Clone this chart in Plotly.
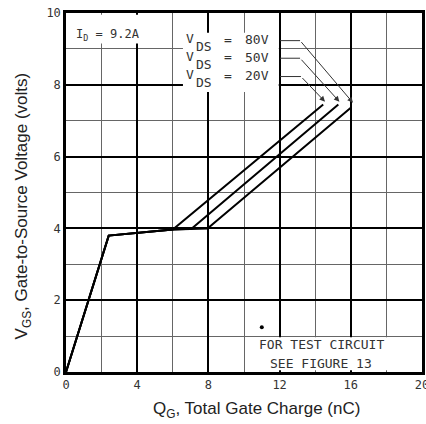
import plotly.graph_objects as go

# ---- data ----
q_20 = [0, 2.4, 6.0, 14.45]
v_20 = [0, 3.8, 3.97, 7.45]
q_50 = [0, 2.4, 6.0, 7.05, 15.3]
v_50 = [0, 3.8, 3.97, 3.99, 7.45]
q_80 = [0, 2.4, 6.0, 7.95, 16.0]
v_80 = [0, 3.8, 3.97, 4.0, 7.36]

vds_labels = ["80V", "50V", "20V"]
label_y = [9.23, 8.74, 8.23]
leader_x0 = [12.02, 12.02, 12.02]
leader_x1 = [13.15, 13.15, 13.2]
tip_x = [16.12, 15.36, 14.55]
tip_y = [7.5, 7.53, 7.53]

x_ticks = [0, 4, 8, 12, 16, 20]
y_ticks = [0, 2, 4, 6, 8, 10]

mono = "DejaVu Sans Mono"
sans = "Liberation Sans"

fig = go.Figure()

for q, v in [(q_80, v_80), (q_50, v_50), (q_20, v_20)]:
    fig.add_trace(go.Scatter(x=q, y=v, mode="lines",
                             line=dict(color="black", width=2),
                             hoverinfo="skip", showlegend=False))

# leader horizontal segments
for x0, x1, y in zip(leader_x0, leader_x1, label_y):
    fig.add_trace(go.Scatter(x=[x0, x1], y=[y, y], mode="lines",
                             line=dict(color="#333", width=1),
                             hoverinfo="skip", showlegend=False))

# dot
fig.add_trace(go.Scatter(x=[11.0], y=[1.25], mode="markers",
                         marker=dict(color="black", size=4),
                         hoverinfo="skip", showlegend=False))

shapes = [
    dict(type="rect", xref="x", yref="y", x0=0.1, x1=5.5, y0=9.15, y1=9.95,
         fillcolor="white", line=dict(width=0), layer="between"),
    dict(type="rect", xref="x", yref="y", x0=6.57, x1=11.95, y0=7.8, y1=9.45,
         fillcolor="white", line=dict(width=0), layer="between"),
    dict(type="rect", xref="x", yref="y", x0=10.1, x1=18.6, y0=0.05, y1=0.97,
         fillcolor="white", line=dict(width=0), layer="between"),
]

ann = []
# leader arrows
for x1, y, tx, ty in zip(leader_x1, label_y, tip_x, tip_y):
    ann.append(dict(x=tx, y=ty, ax=x1, ay=y, xref="x", yref="y",
                    axref="x", ayref="y", text="", showarrow=True,
                    arrowhead=2, arrowsize=1.1, arrowwidth=1, arrowcolor="#333"))

# V_DS labels
for lab, y in zip(vds_labels, label_y):
    fnt = dict(family=mono, size=13, color="#333")
    ann.append(dict(x=6.95, y=y + 0.06, xref="x", yref="y", text="V",
                    showarrow=False, font=fnt))
    ann.append(dict(x=7.75, y=y - 0.17, xref="x", yref="y", text="DS",
                    showarrow=False, font=fnt))
    ann.append(dict(x=9.1, y=y + 0.04, xref="x", yref="y", text="=",
                    showarrow=False, font=fnt))
    ann.append(dict(x=10.75, y=y + 0.02, xref="x", yref="y", text=lab,
                    showarrow=False, font=fnt))

ann.append(dict(x=0.45, y=9.4, xref="x", yref="y", xanchor="left",
                text="I<sub>D</sub> = 9.2A", showarrow=False,
                font=dict(family=mono, size=12, color="#333")))
ann.append(dict(x=14.35, y=0.77, xref="x", yref="y",
                text="FOR TEST CIRCUIT", showarrow=False,
                font=dict(family=mono, size=13, color="#333")))
ann.append(dict(x=14.35, y=0.25, xref="x", yref="y",
                text="SEE FIGURE 13", showarrow=False,
                font=dict(family=mono, size=13, color="#333")))

# axis titles
ann.append(dict(x=-0.12, y=0.462, xref="paper", yref="paper",
                xanchor="center", yanchor="middle",
                text="V<sub>GS</sub>, Gate-to-Source Voltage (volts)",
                textangle=-90, showarrow=False,
                font=dict(family=sans, size=17, color="#222")))
ann.append(dict(x=0.534, y=-0.106, xref="paper", yref="paper",
                xanchor="center", yanchor="middle",
                text="Q<sub>G</sub>, Total Gate Charge (nC)",
                showarrow=False,
                font=dict(family=sans, size=17, color="#222")))

fig.update_layout(
    width=426, height=424,
    margin=dict(l=66, r=4, t=13, b=52),
    paper_bgcolor="white", plot_bgcolor="white",
    shapes=shapes, annotations=ann, showlegend=False,
    xaxis=dict(range=[0, 20], tickvals=x_ticks, ticktext=[str(t) for t in x_ticks],
               automargin=False, ticklabeloverflow="allow",
               showgrid=True, gridcolor="black", gridwidth=2,
               minor=dict(dtick=2, tick0=0, showgrid=True, gridcolor="#666", gridwidth=1.2),
               showline=True, mirror=True, linecolor="black", linewidth=2.5,
               zeroline=False, ticks="",
               tickfont=dict(family=mono, size=12, color="#333")),
    yaxis=dict(range=[0, 10], tickvals=y_ticks, ticktext=[str(t) for t in y_ticks],
               automargin=False, ticklabeloverflow="allow",
               showgrid=True, gridcolor="black", gridwidth=2,
               minor=dict(dtick=1, tick0=0, showgrid=True, gridcolor="#666", gridwidth=1.2),
               showline=True, mirror=True, linecolor="black", linewidth=2.5,
               zeroline=False, ticks="",
               tickfont=dict(family=mono, size=12, color="#333")),
)

fig.write_html("out.html", config={"displayModeBar": False},
               post_script="document.body.style.margin='0';"
                           "document.body.style.overflow='hidden';")
